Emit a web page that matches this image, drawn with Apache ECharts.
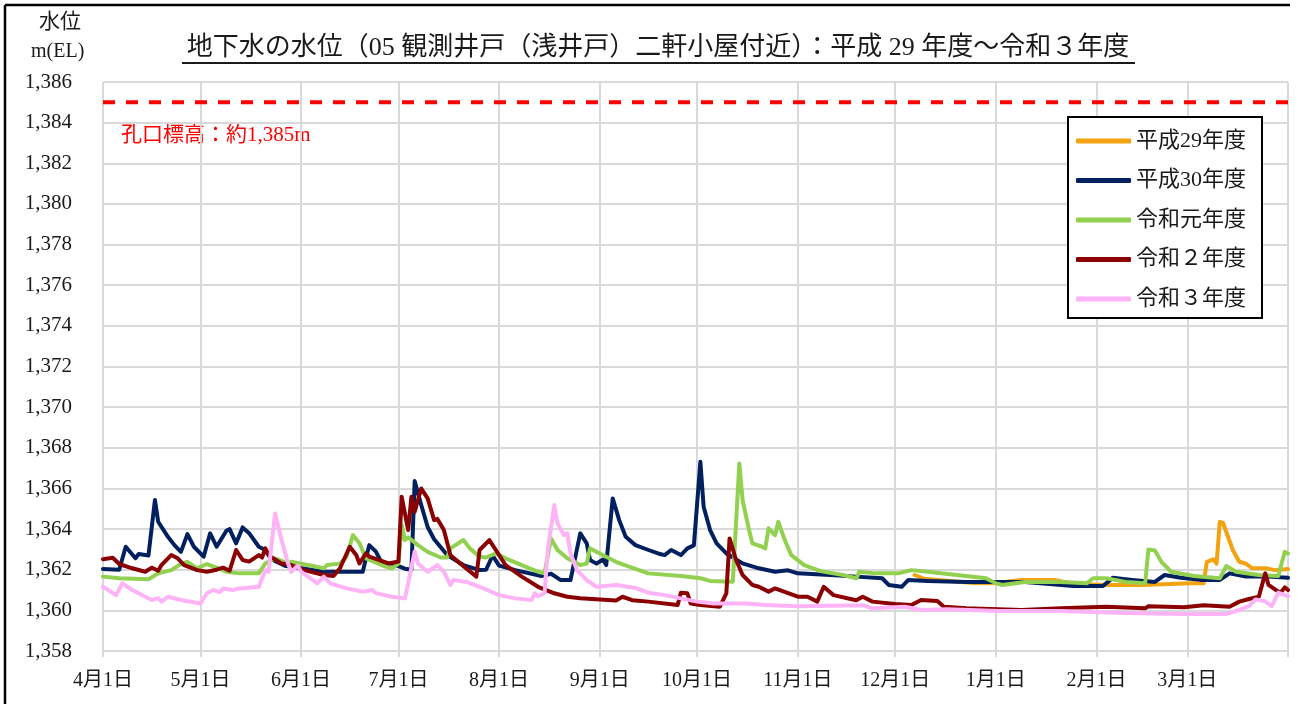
<!DOCTYPE html>
<html>
<head>
<meta charset="utf-8">
<script src="https://cdn.jsdelivr.net/npm/echarts@6/dist/echarts.min.js"></script>
<style>
html,body{margin:0;padding:0;background:#fff;}
#chart{width:1298px;height:704px;}
</style>
</head>
<body>
<div id="chart"></div>
<script>
// ---- axis ticks ----
const monthStarts = [0, 30, 61, 91, 122, 153, 183, 214, 244, 275, 306, 334, 365];
const monthLabels = ['4月1日', '5月1日', '6月1日', '7月1日', '8月1日', '9月1日', '10月1日', '11月1日', '12月1日', '1月1日', '2月1日', '3月1日', ''];
const dayCount = 366;
const yMin = 1358, yMax = 1386, yStep = 2;
const collarLevel = 1385;

// ---- series names ----
const seriesNames = ['平成29年度', '平成30年度', '令和元年度', '令和２年度', '令和３年度'];
const seriesColors = ['#F2A30F', '#002060', '#92D050', '#8B0000', '#FFB3F7'];

// ---- values: [day index from 4/1, water level m(EL)] ----
const h29 = [[250,1361.74],[253,1361.55],[268,1361.35],[274,1361.33],[283,1361.49],[293,1361.49],[299,1361.3],[310,1361.25],[320,1361.25],[335,1361.33],[339,1361.33],[340,1362.39],[342,1362.51],[343,1362.3],[344,1364.36],[345,1364.3],[348,1362.97],[350,1362.39],[352,1362.3],[354,1362.07],[358,1362.07],[361,1361.98],[365,1362.03]];

const h30 = [[0,1362.03],[5,1362.0],[7,1363.13],[10,1362.56],[11,1362.77],[14,1362.7],[16,1365.43],[17,1364.36],[20,1363.62],[22,1363.21],[24,1362.88],[26,1363.75],[28,1363.13],[31,1362.64],[33,1363.79],[35,1363.13],[38,1363.92],[39,1364.0],[41,1363.3],[43,1364.08],[45,1363.8],[48,1363.13],[50,1362.97],[52,1362.5],[56,1362.2],[68,1361.9],[80,1361.9],[82,1363.21],[84,1362.9],[86,1362.3],[89,1362.3],[93,1362.05],[95,1362.0],[96,1366.36],[98,1365.2],[100,1364.1],[102,1363.5],[106,1362.72],[111,1362.23],[116,1361.98],[118,1362.0],[120,1362.7],[122,1362.2],[127,1361.98],[135,1361.69],[138,1361.8],[141,1361.49],[144,1361.49],[147,1363.79],[149,1363.3],[150,1362.48],[152,1362.3],[154,1362.5],[155,1362.23],[157,1365.51],[159,1364.44],[161,1363.62],[164,1363.21],[168,1362.97],[171,1362.8],[173,1362.72],[175,1362.97],[178,1362.72],[180,1363.05],[182,1363.2],[184,1367.31],[185,1365.1],[187,1363.95],[189,1363.3],[192,1362.8],[197,1362.31],[202,1362.07],[207,1361.9],[211,1361.97],[214,1361.82],[224,1361.74],[232,1361.66],[240,1361.58],[242,1361.25],[246,1361.16],[248,1361.49],[254,1361.45],[266,1361.4],[276,1361.4],[284,1361.4],[299,1361.2],[308,1361.2],[311,1361.6],[317,1361.5],[324,1361.4],[327,1361.74],[332,1361.6],[338,1361.5],[344,1361.5],[347,1361.82],[352,1361.66],[359,1361.66],[365,1361.6]];

const r1 = [[0,1361.66],[5,1361.58],[14,1361.53],[17,1361.82],[21,1361.98],[24,1362.28],[26,1362.39],[29,1362.07],[32,1362.28],[35,1362.1],[38,1361.9],[42,1361.82],[48,1361.82],[50,1362.31],[53,1362.56],[57,1362.31],[58,1362.39],[63,1362.23],[68,1362.07],[69,1362.23],[73,1362.3],[75,1362.64],[77,1363.7],[79,1363.3],[81,1362.56],[87,1362.15],[89,1362.07],[91,1362.3],[92,1364.2],[93,1363.46],[94,1363.6],[97,1363.21],[100,1362.88],[104,1362.6],[106,1362.6],[107,1363.05],[111,1363.46],[113,1363.05],[116,1362.64],[118,1362.6],[121,1362.8],[124,1362.56],[129,1362.23],[134,1361.9],[136,1361.82],[138,1363.54],[140,1362.97],[143,1362.56],[147,1362.23],[149,1362.3],[150,1363.05],[153,1362.8],[158,1362.39],[162,1362.15],[168,1361.82],[178,1361.69],[184,1361.58],[187,1361.45],[194,1361.41],[196,1367.23],[197,1365.43],[199,1363.95],[200,1363.3],[203,1363.13],[204,1363.05],[205,1364.04],[207,1363.7],[208,1364.36],[210,1363.46],[212,1362.72],[216,1362.23],[221,1361.93],[228,1361.74],[232,1361.58],[233,1361.9],[238,1361.82],[245,1361.82],[249,1361.98],[254,1361.9],[263,1361.74],[272,1361.58],[275,1361.33],[277,1361.25],[284,1361.4],[295,1361.4],[303,1361.33],[305,1361.58],[309,1361.58],[315,1361.4],[321,1361.33],[322,1363.0],[324,1362.95],[326,1362.39],[329,1361.9],[336,1361.69],[344,1361.58],[346,1362.18],[349,1361.9],[356,1361.74],[362,1361.69],[364,1362.88],[365,1362.8]];

const r2 = [[0,1362.52],[3,1362.59],[5,1362.28],[9,1362.07],[13,1361.9],[15,1362.1],[17,1361.95],[18,1362.23],[21,1362.72],[23,1362.56],[25,1362.23],[29,1361.98],[32,1361.9],[35,1362.0],[37,1362.1],[39,1361.95],[41,1362.97],[43,1362.48],[45,1362.4],[48,1362.72],[49,1362.6],[50,1363.05],[51,1362.72],[53,1362.5],[55,1362.31],[58,1362.23],[62,1361.98],[68,1361.74],[71,1361.69],[73,1362.07],[76,1363.13],[78,1362.72],[79,1362.31],[81,1362.8],[82,1362.64],[88,1362.31],[91,1362.4],[92,1365.59],[94,1363.95],[95,1365.59],[96,1364.85],[98,1366.0],[100,1365.51],[102,1364.44],[103,1364.5],[105,1363.95],[107,1362.72],[110,1362.31],[115,1361.66],[116,1362.97],[119,1363.46],[121,1362.97],[124,1362.23],[129,1361.66],[134,1361.16],[139,1360.84],[143,1360.67],[147,1360.6],[158,1360.48],[160,1360.67],[163,1360.5],[168,1360.43],[177,1360.26],[178,1360.87],[180,1360.84],[181,1360.34],[184,1360.26],[190,1360.18],[192,1360.84],[193,1363.54],[195,1362.48],[197,1361.74],[200,1361.25],[202,1361.16],[205,1360.92],[207,1361.08],[214,1360.67],[217,1360.67],[220,1360.43],[222,1361.16],[225,1360.75],[232,1360.5],[234,1360.67],[237,1360.43],[244,1360.31],[249,1360.26],[252,1360.51],[257,1360.46],[259,1360.18],[266,1360.1],[283,1360.02],[295,1360.1],[309,1360.18],[321,1360.1],[322,1360.2],[333,1360.15],[339,1360.25],[347,1360.18],[350,1360.43],[353,1360.56],[356,1360.67],[358,1361.82],[359,1361.25],[362,1360.92],[363,1360.92],[364,1361.13],[365,1361.0]];

const r3 = [[0,1361.16],[4,1360.75],[6,1361.33],[9,1361.0],[13,1360.67],[15,1360.51],[17,1360.6],[18,1360.43],[20,1360.67],[24,1360.51],[30,1360.34],[32,1360.84],[34,1361.0],[36,1360.9],[37,1361.08],[40,1361.0],[42,1361.08],[48,1361.16],[50,1361.98],[51,1361.9],[53,1364.77],[55,1363.46],[57,1362.31],[58,1361.9],[60,1362.2],[61,1361.9],[66,1361.33],[68,1361.66],[70,1361.33],[75,1361.08],[80,1360.92],[83,1361.0],[84,1360.85],[89,1360.67],[93,1360.59],[94,1361.33],[96,1362.9],[97,1362.31],[100,1361.9],[103,1362.23],[105,1361.9],[107,1361.25],[108,1361.5],[112,1361.4],[116,1361.16],[122,1360.75],[127,1360.59],[132,1360.51],[133,1360.84],[134,1360.7],[136,1360.84],[137,1362.97],[139,1365.18],[140,1364.28],[142,1363.7],[143,1363.8],[144,1362.8],[146,1361.98],[149,1361.49],[152,1361.16],[158,1361.25],[164,1361.1],[168,1360.87],[173,1360.75],[183,1360.43],[188,1360.34],[198,1360.34],[204,1360.26],[214,1360.2],[234,1360.25],[237,1360.1],[247,1360.18],[252,1360.02],[260,1360.05],[276,1359.97],[295,1359.97],[315,1359.87],[333,1359.82],[346,1359.82],[350,1360.02],[353,1360.21],[355,1360.54],[358,1360.45],[360,1360.2],[362,1360.87],[364,1360.75],[365,1360.7]];

const seriesData = [h29, h30, r1, r2, r3];

// ---- build chart ----
const FONT = "'Liberation Serif', 'Noto Sans CJK JP', serif";
const categories = Array.from({length: dayCount}, (_, i) => String(i));
const isMonthStart = (i) => monthStarts.indexOf(i) >= 0;
const labelOf = (i) => { const k = monthStarts.indexOf(i); return k >= 0 ? monthLabels[k] : ''; };

const chart = echarts.init(document.getElementById('chart'), null, {renderer: 'canvas'});

const series = seriesNames.map((name, k) => ({
  name: name,
  type: 'line',
  data: seriesData[k],
  symbol: 'none',
  showSymbol: false,
  smooth: false,
  animation: false,
  lineStyle: {color: seriesColors[k], width: 4, cap: 'round', join: 'round'},
  itemStyle: {color: seriesColors[k]},
  z: 3 + k
}));

series.push({
  name: '孔口標高',
  type: 'line',
  data: [[0, collarLevel], [dayCount - 1, collarLevel]],
  symbol: 'none',
  animation: false,
  silent: true,
  lineStyle: {color: '#FF0000', width: 4, type: [12, 11]},
  z: 2
});

const option = {
  backgroundColor: '#ffffff',
  animation: false,
  grid: {left: 103, right: 10, top: 82, bottom: 53, containLabel: false},
  xAxis: {
    type: 'category',
    data: categories,
    boundaryGap: false,
    axisLine: {show: true, lineStyle: {color: '#D9D9D9', width: 2}},
    axisTick: {show: true, length: 6, lineStyle: {color: '#D9D9D9', width: 2}, interval: (i) => isMonthStart(i)},
    axisLabel: {
      interval: (i) => isMonthStart(i) && i < dayCount - 1,
      formatter: (v, i) => labelOf(Number(v)),
      color: '#1a1a1a', fontSize: 20, fontFamily: FONT, margin: 20
    },
    splitLine: {show: true, interval: (i) => isMonthStart(i), lineStyle: {color: '#D9D9D9', width: 2}}
  },
  yAxis: {
    type: 'value',
    min: yMin, max: yMax, interval: yStep,
    axisLine: {show: false},
    axisTick: {show: false},
    axisLabel: {
      formatter: (v) => v.toLocaleString('en-US'),
      color: '#1a1a1a', fontSize: 21, fontFamily: FONT, margin: 31
    },
    splitLine: {show: true, lineStyle: {color: '#D9D9D9', width: 2}}
  },
  legend: {
    data: seriesNames,
    orient: 'vertical',
    left: 1068, top: 117,
    icon: 'roundRect',
    itemWidth: 55, itemHeight: 5, itemGap: 17.5,
    padding: [13, 16, 8, 8],
    borderColor: '#000', borderWidth: 2,
    backgroundColor: '#ffffff',
    textStyle: {fontSize: 22, fontFamily: FONT, color: '#1a1a1a'}
  },
  graphic: [
    {type: 'line', shape: {x1: 5, y1: 5, x2: 1290, y2: 5}, style: {stroke: '#000', lineWidth: 2.5}, z: 100},
    {type: 'line', shape: {x1: 5, y1: 5, x2: 5, y2: 710}, style: {stroke: '#000', lineWidth: 2.5}, z: 100},
    {type: 'text', left: 39, top: 12, style: {text: '水位', fontSize: 21, fontFamily: FONT, fill: '#1a1a1a'}},
    {type: 'text', left: 31, top: 42, style: {text: 'm(EL)', fontSize: 20, fontFamily: FONT, fill: '#1a1a1a'}},
    {type: 'text', x: 658, y: 48, style: {text: '地下水の水位（05 観測井戸（浅井戸）二軒小屋付近）：平成 29 年度～令和３年度', fontSize: 26, fontFamily: FONT, fill: '#1a1a1a', align: 'center', verticalAlign: 'middle'}},
    {type: 'line', shape: {x1: 182, y1: 63, x2: 1135, y2: 63}, style: {stroke: '#1a1a1a', lineWidth: 2}},
    {type: 'text', left: 121, top: 125, style: {text: '孔口標高：約1,385m', fontSize: 21, fontFamily: FONT, fill: '#FF0000'}}
  ],
  series: series
};

chart.setOption(option);
</script>
</body>
</html>
